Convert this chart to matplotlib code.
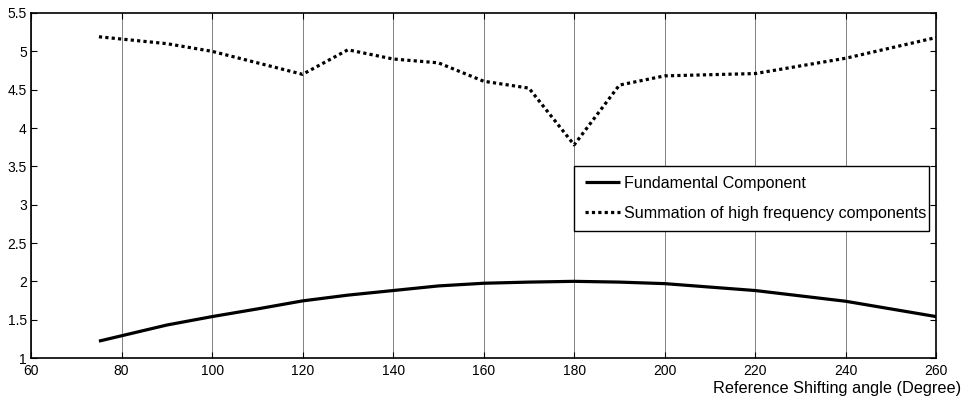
import matplotlib
matplotlib.use('Agg')
import matplotlib.pyplot as plt

plt.rcParams['font.family'] = ['Liberation Sans', 'DejaVu Sans']

# fundamental component
x_fund = [75, 80, 90, 100, 110, 120, 130, 140, 150, 160, 170, 180, 190, 200, 220, 240, 260]
y_fund = [1.22, 1.29, 1.43, 1.54, 1.64, 1.745, 1.82, 1.88, 1.94, 1.975, 1.99, 2.0, 1.99, 1.97, 1.88, 1.74, 1.54]

# summation of high frequency components
x_high = [75, 90, 100, 120, 130, 140, 150, 160, 170, 180, 190, 200, 220, 240, 260]
y_high = [5.19, 5.1, 5.0, 4.7, 5.02, 4.9, 4.85, 4.61, 4.52, 3.78, 4.56, 4.68, 4.71, 4.91, 5.18]

xticks = [60, 80, 100, 120, 140, 160, 180, 200, 220, 240, 260]
yticks = [1, 1.5, 2, 2.5, 3, 3.5, 4, 4.5, 5, 5.5]
ytick_labels = ['1', '1.5', '2', '2.5', '3', '3.5', '4', '4.5', '5', '5.5']

fig = plt.figure(figsize=(9.64, 4.0), dpi=100)
ax = fig.add_axes([0.0322, 0.105, 0.939, 0.8625])

ax.plot(x_fund, y_fund, color='black', lw=2.3, solid_capstyle='butt',
        label='Fundamental Component')
ax.plot(x_high, y_high, color='black', lw=2.3, linestyle=(0, (1, 1)),
        label='Summation of high frequency components')

ax.set_xlim(60, 260)
ax.set_ylim(1, 5.5)
ax.set_xticks(xticks)
ax.set_yticks(yticks)
ax.set_yticklabels(ytick_labels)
ax.grid(axis='x', color='#808080', lw=0.7)
ax.tick_params(direction='in', length=4, width=0.8, labelsize=10,
               top=True, right=True)
ax.tick_params(axis='x', pad=4.5)
ax.tick_params(axis='y', pad=3)
for s in ax.spines.values():
    s.set_linewidth(1.2)

# legend box: x 574-929 px, y 166-231 px
leg = ax.legend(loc='lower left', bbox_to_anchor=(0.600, 0.368, 0.392, 0.19),
                mode='expand', fontsize=11.6, frameon=True, fancybox=False,
                framealpha=1, edgecolor='black', handlelength=2.2, handletextpad=0.25,
                borderpad=0.65, labelspacing=0.9, borderaxespad=0)
leg.get_frame().set_linewidth(1.0)

fig.text(0.997, 0.028, 'Reference Shifting angle (Degree)', ha='right', va='center',
         fontsize=11.7)

fig.savefig('out.png', dpi=100)
